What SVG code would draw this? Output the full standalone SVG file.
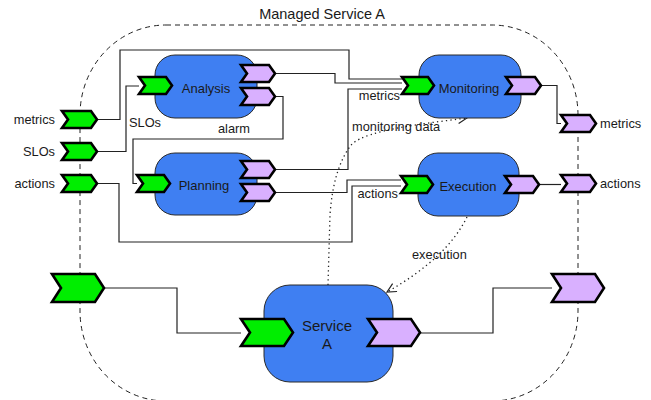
<svg xmlns="http://www.w3.org/2000/svg" width="651" height="400" viewBox="0 0 651 400">
  <style>
    text { font-family: "Liberation Sans", Arial, sans-serif; fill: #1a1a1a; }
    .lbl { font-size: 12.8px; }
    .node-lbl { font-size: 13px; text-anchor: middle; }
    .box { fill: #3f7ff2; stroke: #2a2a2a; stroke-width: 1; }
    .in { fill: #00ee00; stroke: #000; stroke-width: 2.6; stroke-linejoin: miter; }
    .out { fill: #d9b0ff; stroke: #000; stroke-width: 2.6; stroke-linejoin: miter; }
    .wire { fill: none; stroke: #222; stroke-width: 1.2; }
    .flow { fill: none; stroke: #222; stroke-width: 1.3; stroke-dasharray: 1.3 3.2; }
  </style>
  <defs>
    <marker id="open-arrow" markerWidth="12" markerHeight="12" refX="10" refY="5" orient="auto" markerUnits="userSpaceOnUse">
      <path d="M1,0.5 L10,5 L1,9.5" fill="none" stroke="#222" stroke-width="1.2"/>
    </marker>
  </defs>

  <!-- managed service boundary -->
  <g id="managed-service">
    <rect x="80" y="25" width="498" height="376" rx="86" ry="90" fill="none" stroke="#222" stroke-width="1" stroke-dasharray="5 4"/>
    <text x="322" y="19" font-size="14.5" text-anchor="middle">Managed Service A</text>
  </g>

  <!-- connectors -->
  <g id="connectors">
    <path class="wire" d="M97,119.5 H120 V50 H349 V79 H402"/>
    <path class="wire" d="M275,73.5 H335 V83 H402"/>
    <path class="wire" d="M275,169.5 H348 V89 H402"/>
    <path class="wire" d="M97,151.5 H126 V86 H139"/>
    <path class="wire" d="M275,96.5 H283 V139 H133 V183.5 H137"/>
    <path class="wire" d="M97,183.5 H119 V242 H352 V186 H401"/>
    <path class="wire" d="M275,192.5 H347 V180 H401"/>
    <path class="wire" d="M541,85.5 H557 V123.5 H561"/>
    <path class="wire" d="M539,184.5 H561"/>
    <path class="wire" d="M104,288 H177 V333 H241"/>
    <path class="wire" d="M420,333 H493 V288 H552"/>
    <path class="flow" d="M328,285 L330,215 C332,185 339,160 352,144 C368,130 420,124 467,118" marker-end="url(#open-arrow)"/>
    <path class="flow" d="M467,217 Q447,258 387,292" marker-end="url(#open-arrow)"/>
    <text class="lbl" x="129" y="127">SLOs</text>
    <text class="lbl" x="218" y="133">alarm</text>
    <text class="lbl" x="400" y="100" text-anchor="end">metrics</text>
    <text class="lbl" x="398" y="198" text-anchor="end">actions</text>
    <text class="lbl" x="352" y="131">monitoring data</text>
    <text class="lbl" x="412" y="259">execution</text>
  </g>

  <!-- boundary ports of the managed service -->
  <g id="port-metrics-in">
    <polygon class="in" points="62,111 91,111 97,119.5 91,128 62,128 68,119.5"/>
    <text class="lbl" x="55" y="124" text-anchor="end">metrics</text>
  </g>
  <g id="port-slos-in">
    <polygon class="in" points="62,143 91,143 97,151.5 91,160 62,160 68,151.5"/>
    <text class="lbl" x="55" y="156" text-anchor="end">SLOs</text>
  </g>
  <g id="port-actions-in">
    <polygon class="in" points="62,175 91,175 97,183.5 91,192 62,192 68,183.5"/>
    <text class="lbl" x="55" y="188" text-anchor="end">actions</text>
  </g>
  <g id="port-metrics-out">
    <polygon class="out" points="561,115 590,115 596,123.5 590,132 561,132 567,123.5"/>
    <text class="lbl" x="600" y="128">metrics</text>
  </g>
  <g id="port-actions-out">
    <polygon class="out" points="561,175 590,175 596,183.5 590,192 561,192 567,183.5"/>
    <text class="lbl" x="600" y="188">actions</text>
  </g>
  <g id="port-service-in">
    <polygon class="in" points="52,274 95,274 104,288 95,302 52,302 61,288"/>
  </g>
  <g id="port-service-out">
    <polygon class="out" points="552,274 595,274 604,288 595,302 552,302 561,288"/>
  </g>

  <!-- MAPE components -->
  <g id="analysis">
    <rect class="box" x="155" y="55" width="102" height="63" rx="20"/>
    <text class="node-lbl" x="206" y="92.5">Analysis</text>
    <polygon class="in" points="139,77 166,77 172,85.5 166,94 139,94 145,85.5"/>
    <polygon class="out" points="241,65 269,65 275,73.5 269,82 241,82 247,73.5"/>
    <polygon class="out" points="241,88 269,88 275,96.5 269,105 241,105 247,96.5"/>
  </g>
  <g id="planning">
    <rect class="box" x="155" y="153" width="102" height="62" rx="20"/>
    <text class="node-lbl" x="204" y="189.5">Planning</text>
    <polygon class="in" points="137,175 164,175 170,183.5 164,192 137,192 143,183.5"/>
    <polygon class="out" points="241,161 269,161 275,169.5 269,178 241,178 247,169.5"/>
    <polygon class="out" points="241,184 269,184 275,192.5 269,201 241,201 247,192.5"/>
  </g>
  <g id="monitoring">
    <rect class="box" x="419" y="55" width="102" height="63" rx="20"/>
    <text class="node-lbl" x="469" y="92.5">Monitoring</text>
    <polygon class="in" points="402,77 428,77 434,85.5 428,94 402,94 408,85.5"/>
    <polygon class="out" points="506,77 535,77 541,85.5 535,94 506,94 512,85.5"/>
  </g>
  <g id="execution">
    <rect class="box" x="418" y="153" width="101" height="63" rx="20"/>
    <text class="node-lbl" x="468" y="190.5">Execution</text>
    <polygon class="in" points="401,176 427,176 433,184.5 427,193 401,193 407,184.5"/>
    <polygon class="out" points="505,176 533,176 539,184.5 533,193 505,193 511,184.5"/>
  </g>

  <!-- managed element -->
  <g id="service-a">
    <rect class="box" x="264" y="285" width="129" height="97" rx="26"/>
    <text x="327" y="330.5" font-size="15" text-anchor="middle">Service</text>
    <text x="327" y="348.5" font-size="15" text-anchor="middle">A</text>
    <polygon class="in" points="241,319 284,319 293,332.5 284,346 241,346 250,332.5"/>
    <polygon class="out" points="368,319 411,319 420,332.5 411,346 368,346 377,332.5"/>
  </g>
</svg>
